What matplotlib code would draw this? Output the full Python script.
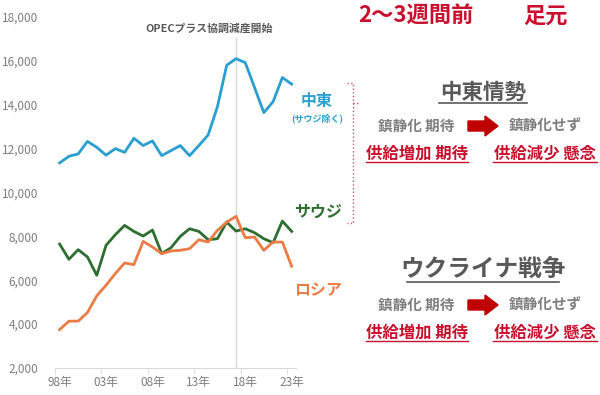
import matplotlib
matplotlib.use("Agg")
import matplotlib.pyplot as plt
from matplotlib.patches import Polygon

plt.rcParams['font.family'] = ['Noto Sans CJK JP', 'DejaVu Sans']

# ---- data ----
years = list(range(1998, 2024))
middle_east = [11350, 11650, 11760, 12330, 12060, 11700, 12000, 11830, 12470, 12140,
               12350, 11680, 11910, 12140, 11680, 12140, 12620, 13910, 15800, 16100,
               15920, 14790, 13640, 14140, 15240, 14940]
saudi = [7650, 6955, 7394, 7061, 6227, 7591, 8076, 8500, 8227, 8015,
         8288, 7212, 7485, 8000, 8348, 8227, 7848, 7894, 8651, 8242,
         8348, 8167, 7894, 7712, 8697, 8227]
russia = [3750, 4136, 4136, 4530, 5288, 5773, 6303, 6788, 6712, 7773,
          7515, 7212, 7333, 7364, 7439, 7848, 7742, 8273, 8651, 8909,
          7939, 7970, 7364, 7742, 7742, 6636]
label_years = [1998, 2003, 2008, 2013, 2018, 2023]
y_ticks = [2000, 4000, 6000, 8000, 10000, 12000, 14000, 16000, 18000]
opec_year = 2017

BLUE = '#2A9FD0'
GREEN = '#2E6E30'
ORANGE = '#EC7C45'
RED = '#C8102E'
GRAY = '#7F7F7F'

W, H = 600, 395
fig = plt.figure(figsize=(W / 100, H / 100), dpi=100)
ax = fig.add_axes([55 / W, 1 - 368 / H, 241.3 / W, 351 / H])

ax.plot(years, middle_east, color=BLUE, lw=2)
ax.plot(years, saudi, color=GREEN, lw=2)
ax.plot(years, russia, color=ORANGE, lw=2)
ax.vlines(opec_year, 2000, 17100, color='#D9D9D9', lw=1, zorder=0)

ax.set_xlim(1997.5, 2023.5)
ax.set_ylim(2000, 18000)
ax.set_yticks(y_ticks)
ax.set_yticklabels([f"{v:,}" for v in y_ticks])
ax.set_xticks(label_years)
ax.set_xticklabels([f"{y % 100:02d}年" for y in label_years])
ax.set_xticks([y - 0.5 for y in label_years], minor=True)
ax.tick_params(axis='y', length=0, pad=12, labelsize=8.5, labelcolor=GRAY)
ax.tick_params(axis='x', which='major', length=0, pad=6, labelsize=8.5, labelcolor=GRAY)
ax.tick_params(axis='x', which='minor', length=4, color='#D9D9D9')
for s in ['left', 'right', 'top']:
    ax.spines[s].set_visible(False)
ax.spines['bottom'].set_color('#D9D9D9')

# ---- overlay in pixel coordinates for annotations ----
ov = fig.add_axes([0, 0, 1, 1])
ov.set_xlim(0, W)
ov.set_ylim(H, 0)
ov.axis('off')
ov.patch.set_alpha(0)

ov.text(209, 29, "OPECプラス協調減産開始", ha='center', va='center',
        fontsize=7.8, fontweight='bold', color='#595959')

ov.text(317, 101, "中東", ha='center', va='center', fontsize=11.5, fontweight='bold', color=BLUE)
ov.text(317, 118, "(サウジ除く)", ha='center', va='center', fontsize=6.5, fontweight='bold', color=BLUE)
ov.text(318, 212, "サウジ", ha='center', va='center', fontsize=11.5, fontweight='bold', color=GREEN)
ov.text(318, 290, "ロシア", ha='center', va='center', fontsize=11.5, fontweight='bold', color=ORANGE)

# bracket
ov.plot([347, 353, 353, 347], [83, 83, 223, 223], color='#E05060', lw=1, ls=':')
ov.plot([353, 359], [103, 103], color='#E05060', lw=1, ls=':')

ov.text(416, 16, "2〜3週間前", ha='center', va='center', fontsize=16, fontweight='bold', color=RED)
ov.text(546, 16, "足元", ha='center', va='center', fontsize=16, fontweight='bold', color=RED)


def block(title, ty, uy, tw, tsize):
    ov.text(483, ty, title, ha='center', va='center', fontsize=tsize, fontweight='bold', color='#595959')
    ov.plot([483 - tw / 2, 483 + tw / 2], [uy, uy], color='#595959', lw=1.2)
    r1 = uy + 23
    ov.text(416, r1, "鎮静化 期待", ha='center', va='center', fontsize=10.5, fontweight='bold', color=GRAY)
    ov.text(545, r1, "鎮静化せず", ha='center', va='center', fontsize=10.5, fontweight='bold', color=GRAY)
    ov.add_patch(Polygon([(468, r1 - 5), (485, r1 - 5), (485, r1 - 10), (498, r1),
                          (485, r1 + 10), (485, r1 + 5), (468, r1 + 5)],
                         closed=True, color='#C00000'))
    r2 = r1 + 28
    ov.text(417, r2, "供給増加 期待", ha='center', va='center', fontsize=11.8, fontweight='bold', color=RED)
    ov.text(545, r2, "供給減少 懸念", ha='center', va='center', fontsize=11.8, fontweight='bold', color=RED)
    ov.plot([366, 468], [r2 + 8, r2 + 8], color=RED, lw=1)
    ov.plot([493, 597], [r2 + 8, r2 + 8], color=RED, lw=1)


block("中東情勢", 92, 103, 88, 15.5)
block("ウクライナ戦争", 269, 282, 152, 17)

fig.savefig("out.png", dpi=100)
